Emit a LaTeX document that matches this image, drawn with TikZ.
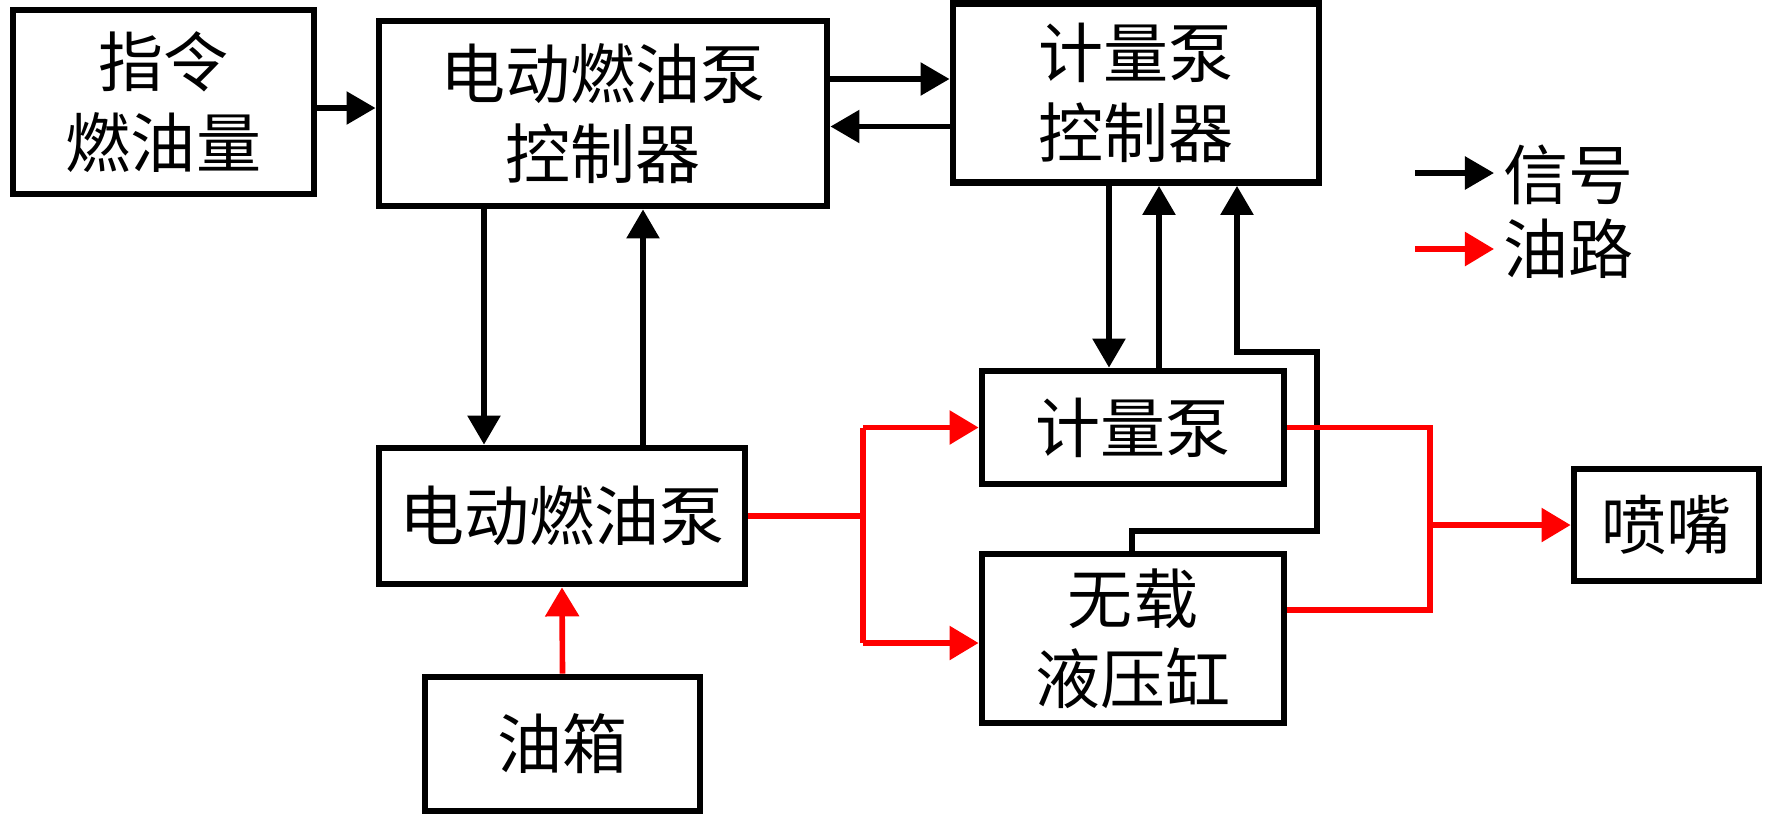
\documentclass[tikz,border=0pt]{standalone}
\usepackage{fontspec}
\setmainfont{Noto Sans CJK SC}
\usetikzlibrary{arrows.meta,calc}
\begin{document}
\begin{tikzpicture}[x=0.01cm,y=-0.01cm,
  box/.style={draw, line width=1.9pt, align=center, inner sep=0pt,
    font=\fontsize{18.5pt}{22.8pt}\selectfont},
  tip/.style={-{Triangle[length=0.29cm,width=0.32cm]}},
  sig/.style={line width=1.6pt, tip},
  oil/.style={draw=red, line width=1.6pt},
  oilarrow/.style={oil, -{Triangle[length=0.29cm,width=0.33cm]}, fill=red},
  lbl/.style={inner sep=0pt, font=\fontsize{18.5pt}{22.8pt}\selectfont}]
\useasboundingbox (0,0) rectangle (1772,814);

\node[box, minimum width=3.01cm, minimum height=1.84cm] (A) at (163.5,102) {指令\\燃油量};
\node[box, minimum width=4.48cm, minimum height=1.85cm] (B) at (603,113.5) {电动燃油泵\\控制器};
\node[box, minimum width=3.66cm, minimum height=1.79cm] (C) at (1136,93) {计量泵\\控制器};
\node[box, minimum width=3.66cm, minimum height=1.36cm] (D) at (562,516) {电动燃油泵};
\node[box, minimum width=2.75cm, minimum height=1.34cm] (E) at (562.5,744) {油箱};
\node[box, minimum width=3.02cm, minimum height=1.13cm] (F) at (1133,427.5) {计量泵};
\node[box, minimum width=3.02cm, minimum height=1.69cm] (G) at (1133,638.5) {无载\\液压缸};
\node[box, minimum width=1.85cm, minimum height=1.12cm] (H) at (1666.5,525) {喷嘴};

% signal connectors
\draw[sig] ($(A.east)+(0,6)$) coordinate (ab) -- (ab -| B.west);
\draw[sig] ($(B.east)+(0,-34.5)$) coordinate (bc) -- (bc -| C.west);
\draw[sig] ($(C.west)+(0,33.5)$) coordinate (cb) -- (cb -| B.east);
\draw[sig] ($(B.south)+(-119,0)$) coordinate (bd) -- (bd |- D.north);
\draw[sig] ($(D.north)+(81,0)$) coordinate (db) -- (db |- B.south);
\draw[sig] ($(C.south)+(-27,0)$) coordinate (cf) -- (cf |- F.north);
\draw[sig] ($(F.north)+(26,0)$) coordinate (fc) -- (fc |- C.south);
\coordinate (g1) at (1317,531);
\coordinate (g2) at (1237,352);
\draw[sig] ($(G.north)+(-1,0)$) coordinate (gc) -- (gc |- g1) -- (g1) -- (g1 |- g2) -- (g2) -- (g2 |- C.south);

% oil connectors
\coordinate (j1) at (863,516);
\coordinate (j2) at (1430,524);
\coordinate (gw) at ($(G.west)+(0,4.5)$);
\draw[oil] (D.east) -- (D.east -| j1);
\draw[oil] (j1 |- F.west) -- (j1 |- gw);
\draw[oilarrow] (j1 |- F.west) -- (F.west);
\draw[oilarrow] (j1 |- gw) -- (gw);
\coordinate (ge) at ($(G.east)+(0,-28.5)$);
\draw[oil] (F.east) -- (F.east -| j2) -- (ge -| j2) -- (ge);
\draw[oilarrow] (j2 |- H.west) -- (H.west);
\draw[oilarrow] (E.north) -- (D.south);

% legend
\node[lbl, anchor=west] (lsig) at (1503,175) {信号};
\node[lbl, anchor=west] (loil) at (1503,249) {油路};
\draw[sig] ($(lsig.west)+(-88,-2)$) -- ($(lsig.west)+(-9,-2)$);
\draw[oilarrow] ($(loil.west)+(-88,0)$) -- ($(loil.west)+(-9,0)$);
\end{tikzpicture}
\end{document}
